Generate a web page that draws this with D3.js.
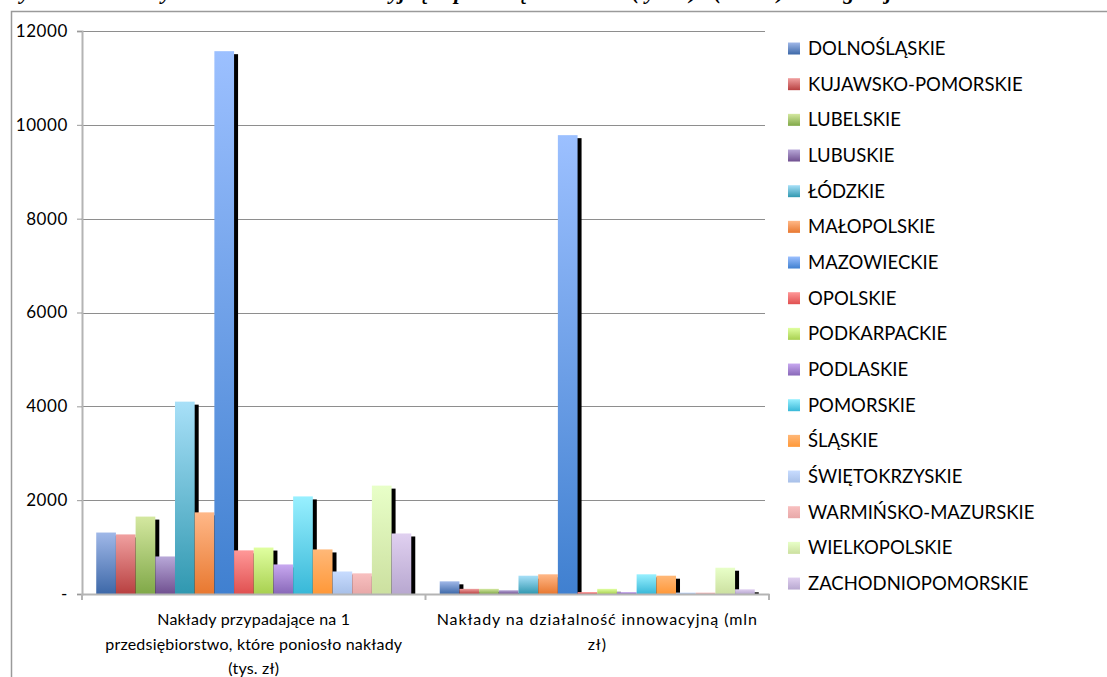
<!DOCTYPE html>
<html><head><meta charset="utf-8">
<script src="https://cdn.jsdelivr.net/npm/d3@7"></script>
<style>
html,body{margin:0;padding:0;background:#fff;}
svg{display:block;}
</style></head>
<body>
<svg id="chart" width="1107" height="677"></svg>
<script>
const title = "Wykres 5. Nakłady na działalność innowacyjną w przedsiębiorstwach (tys. zł) i (mln zł) według województw";
const categories = [
  ["Nakłady przypadające na 1", "przedsiębiorstwo, które poniosło nakłady", "(tys. zł)"],
  ["Nakłady na działalność innowacyjną (mln", "zł)"]
];
const categoryKeys = ["perFirm", "total"];
const regions = ["DOLNOŚLĄSKIE","KUJAWSKO-POMORSKIE","LUBELSKIE","LUBUSKIE","ŁÓDZKIE","MAŁOPOLSKIE","MAZOWIECKIE","OPOLSKIE","PODKARPACKIE","PODLASKIE","POMORSKIE","ŚLĄSKIE","ŚWIĘTOKRZYSKIE","WARMIŃSKO-MAZURSKIE","WIELKOPOLSKIE","ZACHODNIOPOMORSKIE"];
const perFirm = [1310, 1270, 1650, 800, 4100, 1740, 11570, 930, 990, 630, 2080, 950, 480, 440, 2310, 1290];
const total   = [270, 110, 110, 80, 390, 420, 9780, 40, 110, 40, 420, 390, 30, 30, 560, 100];
const yTicks = [0, 2000, 4000, 6000, 8000, 10000, 12000];
const colorTop    = ["#a0b8e8","#f0a0a0","#d4e8a0","#b8a8d8","#a8e0f8","#ffb888","#9cc0ff","#ff9898","#e0ffa0","#c8a8f0","#98f0ff","#ffb878","#c8dcff","#f8c0c0","#e8ffc8","#e0d0f0"];
const colorBottom = ["#3d68a8","#b84040","#80a848","#705090","#3098b0","#e87830","#4080d0","#e05050","#a8d050","#8868b8","#38b8d8","#ff9838","#a8c0e8","#e8a8a8","#cce0a0","#b8a8d0"];

const seriesValues = {perFirm, total};
const svg = d3.select("#chart");
const font = "Lato, 'Open Sans', sans-serif";

// gradients
const defs = svg.append("defs");
regions.forEach((r, i) => {
  const g = defs.append("linearGradient").attr("id", "grad" + i)
    .attr("x1", 0).attr("y1", 0).attr("x2", 0).attr("y2", 1);
  g.append("stop").attr("offset", "0%").attr("stop-color", colorTop[i]);
  g.append("stop").attr("offset", "100%").attr("stop-color", colorBottom[i]);
});

// chart frame
svg.append("rect").attr("x", 11.5).attr("y", 11.5).attr("width", 1200).attr("height", 800)
  .attr("fill", "none").attr("stroke", "#9a9a9a").attr("stroke-width", 1.5);

// title (cropped at top, only descenders visible)
svg.append("text").attr("x", 2).attr("y", -1)
  .attr("font-family", "'Liberation Serif', serif").attr("font-weight", "bold").attr("font-style", "italic")
  .attr("font-size", 22).attr("fill", "#000").text(title);

const plot = {left: 82, right: 769, top: 31, bottom: 594};
const y = d3.scaleLinear().domain([0, 12000]).range([plot.bottom, plot.top]);
const x0 = d3.scaleBand().domain(categoryKeys).range([plot.left, plot.right]).paddingInner(0).paddingOuter(0);
const x1 = d3.scaleBand().domain(regions).range([0, x0.bandwidth()]).paddingInner(0).paddingOuter(0.723);

// gridlines
svg.append("g").selectAll("line").data(yTicks.filter(d => d > 0)).join("line")
  .attr("x1", plot.left).attr("x2", 765)
  .attr("y1", d => Math.round(y(d)) + 0.5).attr("y2", d => Math.round(y(d)) + 0.5)
  .attr("stroke", "#8e8e8e").attr("stroke-width", 1);

// y axis
const yAxis = d3.axisLeft(y).tickValues(yTicks).tickSize(5).tickPadding(9)
  .tickFormat(d => d === 0 ? "-" : String(d));
const gy = svg.append("g").attr("transform", `translate(${plot.left},0)`).call(yAxis);
gy.select(".domain").attr("stroke", "#b4b4b4").attr("stroke-width", 2);
gy.selectAll(".tick line").attr("stroke", "#9a9a9a");
gy.selectAll(".tick text").attr("font-family", font).attr("font-size", 17).attr("letter-spacing", 0.6).attr("fill", "#000");

// bars
const barsClip = defs.append("clipPath").attr("id", "plotclip");
barsClip.append("rect").attr("x", plot.left).attr("y", 0).attr("width", plot.right - plot.left + 10).attr("height", plot.bottom);

const data = [];
categoryKeys.forEach(c => regions.forEach((r, i) => data.push({c, r, i, v: seriesValues[c][i]})));

const gBars = svg.append("g").attr("clip-path", "url(#plotclip)");
gBars.append("g").selectAll("rect").data(data).join("rect")
  .attr("x", d => x0(d.c) + x1(d.r) + 4)
  .attr("y", d => y(d.v) + 3)
  .attr("width", x1.bandwidth())
  .attr("height", d => plot.bottom - y(d.v))
  .attr("fill", "#000");
gBars.append("g").selectAll("rect").data(data).join("rect")
  .attr("x", d => x0(d.c) + x1(d.r))
  .attr("y", d => y(d.v))
  .attr("width", x1.bandwidth())
  .attr("height", d => plot.bottom - y(d.v))
  .attr("fill", d => `url(#grad${d.i})`);

// x axis
const xAxis = d3.axisBottom(x0).tickSize(0).tickFormat("");
const gx = svg.append("g").attr("transform", `translate(0,${plot.bottom})`).call(xAxis);
gx.select(".domain").attr("stroke", "#b4b4b4").attr("stroke-width", 2);
// boundary ticks
const bounds = [plot.left, x0(categoryKeys[1]), plot.right];
svg.append("g").selectAll("line").data(bounds).join("line")
  .attr("x1", d => d).attr("x2", d => d)
  .attr("y1", plot.bottom).attr("y2", plot.bottom + 6)
  .attr("stroke", "#b4b4b4").attr("stroke-width", 2);

// category labels
categoryKeys.forEach((c, ci) => {
  const cx = x0(c) + x0.bandwidth() / 2;
  categories[ci].forEach((line, li) => {
    svg.append("text").attr("x", cx).attr("y", 625 + li * 24.5)
      .attr("text-anchor", "middle").attr("font-family", font).attr("font-size", 16)
      .attr("letter-spacing", ci === 1 ? 0.9 : 0.2)
      .attr("fill", "#000").text(line);
  });
});

// legend
const leg = svg.append("g");
regions.forEach((r, i) => {
  const cy = 48.5 + i * 35.67;
  leg.append("rect").attr("x", 788).attr("y", cy - 6).attr("width", 12).attr("height", 12)
    .attr("fill", `url(#grad${i})`);
  leg.append("text").attr("x", 808).attr("y", cy + 6.5)
    .attr("font-family", font).attr("font-size", 18.5).attr("fill", "#000").text(r);
});
</script>
</body></html>
